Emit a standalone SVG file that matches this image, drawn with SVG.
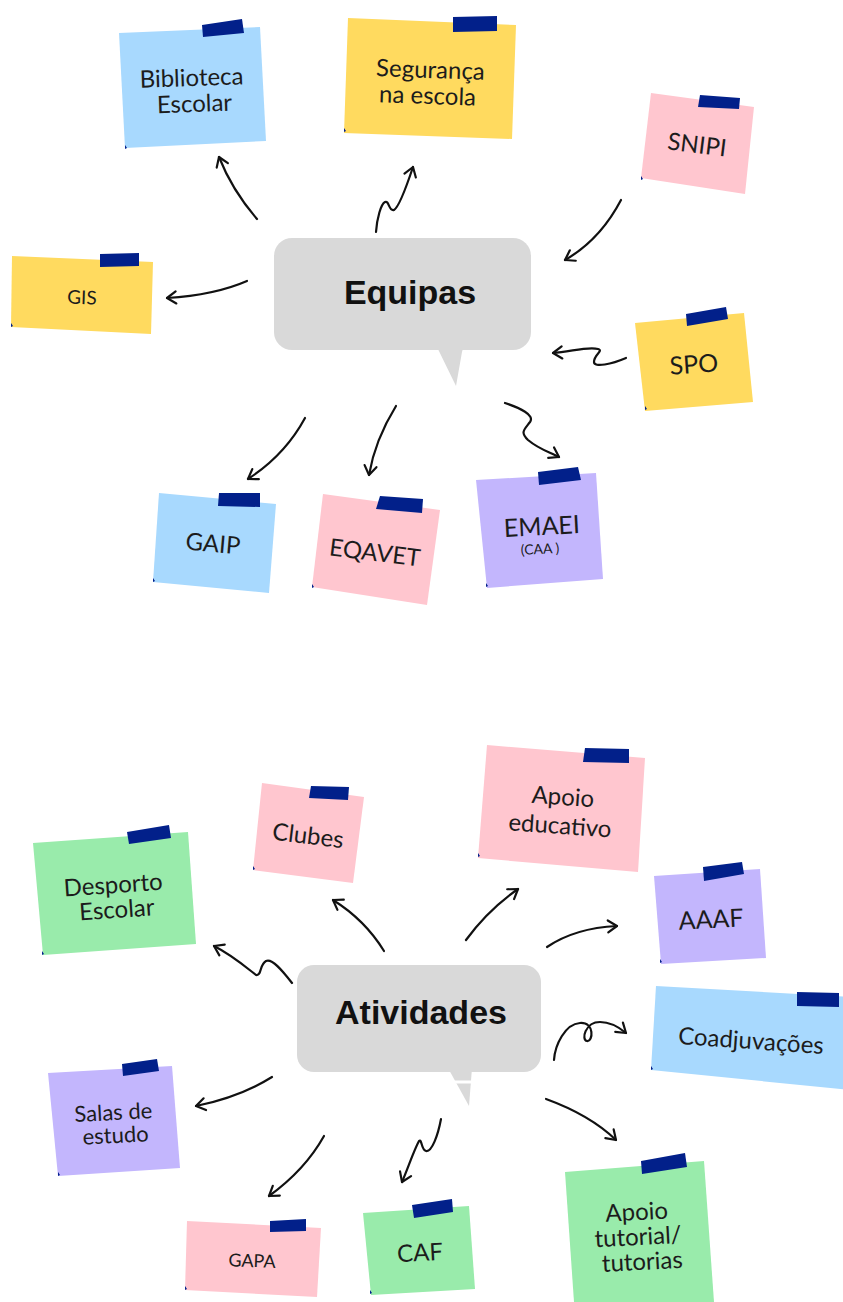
<svg xmlns="http://www.w3.org/2000/svg" width="843" height="1302" viewBox="0 0 843 1302">
<style>
.note{stroke:none}
.blue{fill:#a8d9fe}
.yellow{fill:#ffda5f}
.pink{fill:#ffc6cf}
.purple{fill:#c3b6fd}
.green{fill:#99ebab}
.tape{fill:#02208a}
.curl{fill:#02208a}
.lbl{font-family:Lato,"Open Sans",sans-serif;font-size:24px;fill:#1c1c1c;text-anchor:middle}
.hub{fill:#d9d9d9}
.hubtxt{font-family:"Liberation Sans",Arial,sans-serif;font-weight:bold;font-size:34px;fill:#111;text-anchor:middle}
.arr{fill:none;stroke:#111;stroke-width:2.2;stroke-linecap:round;stroke-linejoin:round;marker-end:url(#ah)}
</style>
<defs>
<marker id="ah" viewBox="-12 -8 14 16" refX="0" refY="0" markerWidth="14" markerHeight="16" markerUnits="userSpaceOnUse" orient="auto">
<path d="M-9,-6 L0,0 L-9,6" fill="none" stroke="#111" stroke-width="2.2" stroke-linecap="round" stroke-linejoin="round"/>
</marker>
</defs>
<rect width="843" height="1302" fill="#ffffff"/>

<!-- Hubs -->
<g id="hub-equipas">
<rect class="hub" x="274" y="238" width="257" height="112" rx="18"/>
<polygon class="hub" points="436,345 464,345 462,352 456,386"/>
<text class="hubtxt" x="410" y="304">Equipas</text>
</g>
<g id="hub-atividades">
<rect class="hub" x="297" y="965" width="244" height="107" rx="17"/>
<polygon class="hub" points="448,1068 472,1068 469,1106"/>
<line x1="446" y1="1082" x2="476" y2="1082" stroke="#fff" stroke-width="3"/>
<text class="hubtxt" x="421" y="1024">Atividades</text>
</g>

<!-- Connectors -->
<g id="connectors">
<path class="arr" d="M257,219 Q232,190 219,157"/>
<path class="arr" d="M376,232 C377,218 381,204 385,202 C389,200 389,212 394,210 C399,207 407,185 413,167"/>
<path class="arr" d="M621,200 Q600,240 565,260"/>
<path class="arr" d="M247,281 Q215,295 167,298"/>
<path class="arr" d="M626,358 C612,364 594,368 594,362 C594,354 604,351 598,349 C588,346 570,352 553,353"/>
<path class="arr" d="M305,418 Q285,455 248,479"/>
<path class="arr" d="M396,406 Q375,440 369,475"/>
<path class="arr" d="M505,403 C520,408 535,415 530,422 C524,430 520,432 528,440 C540,450 550,452 559,457"/>
<path class="arr" d="M292,983 C282,970 272,958 266,961 C259,965 262,976 256,975 C247,968 232,955 214,946"/>
<path class="arr" d="M384,951 Q365,920 333,900"/>
<path class="arr" d="M466,940 Q488,910 518,889"/>
<path class="arr" d="M547,947 Q575,928 617,926"/>
<path class="arr" d="M554,1060 C555,1045 565,1024 580,1023 C595,1022 593,1042 587,1041 C581,1040 585,1022 600,1022 C612,1022 620,1028 626,1033"/>
<path class="arr" d="M272,1077 Q240,1097 196,1106"/>
<path class="arr" d="M546,1099 Q590,1115 616,1140" stroke-width="3"/>
<path class="arr" d="M324,1136 Q305,1170 269,1196"/>
<path class="arr" d="M441,1119 C438,1135 432,1152 426,1151 C421,1150 422,1138 419,1141 C414,1150 408,1168 402,1182"/>
</g>

<!-- Equipas notes -->
<g id="n-biblioteca">
<polygon class="note blue" points="119,33 260,27 266,141 125,148"/>
<polygon class="tape" points="202,25 242,19 244,33 203,37"/>
<path class="curl" d="M125,145 l2,3 l-2,1 z"/>
<text class="lbl" transform="rotate(-2 193 91)"><tspan x="192" y="86">Biblioteca</tspan><tspan x="194" y="112">Escolar</tspan></text>
</g>
<g id="n-seguranca">
<polygon class="note yellow" points="348,18 516,25 512,139 344,133"/>
<polygon class="tape" points="453,17 497,16 497,31 453,32"/>
<path class="curl" d="M344,128 l2,3 l-2,1 z"/>
<text class="lbl" transform="rotate(2 430 83)"><tspan x="430" y="78">Segurança</tspan><tspan x="428" y="104">na escola</tspan></text>
</g>
<g id="n-snipi">
<polygon class="note pink" points="651,93 754,107 745,194 641,178"/>
<polygon class="tape" points="700,95 740,98 739,109 698,107"/>
<path class="curl" d="M641,176 l2,3 l-2,1 z"/>
<text class="lbl" transform="rotate(7 697 145)" x="697" y="153">SNIPI</text>
</g>
<g id="n-gis">
<polygon class="note yellow" points="12,256 153,262 151,334 11,327"/>
<polygon class="tape" points="100,254 139,253 139,266 100,267"/>
<path class="curl" d="M11,323 l2,3 l-2,1 z"/>
<text class="lbl" style="font-size:19px" transform="rotate(2 82 297)" x="82" y="304">GIS</text>
</g>
<g id="n-spo">
<polygon class="note yellow" points="635,323 744,313 753,402 645,411"/>
<polygon class="tape" points="686,314 726,307 728,319 687,326"/>
<path class="curl" d="M645,406 l2,3 l-2,1 z"/>
<text class="lbl" style="font-size:25px" transform="rotate(-4 694 365)" x="694" y="373">SPO</text>
</g>
<g id="n-gaip">
<polygon class="note blue" points="159,493 276,504 269,593 153,582"/>
<polygon class="tape" points="219,493 260,493 260,507 218,506"/>
<path class="curl" d="M153,578 l2,3 l-2,1 z"/>
<text class="lbl" transform="rotate(5 213 544)" x="213" y="552">GAIP</text>
</g>
<g id="n-eqavet">
<polygon class="note pink" points="323,494 440,510 427,605 312,587"/>
<polygon class="tape" points="380,496 423,499 422,513 376,509"/>
<path class="curl" d="M312,584 l2,3 l-2,1 z"/>
<text class="lbl" transform="rotate(7 375 553)" x="375" y="561">EQAVET</text>
</g>
<g id="n-emaei">
<polygon class="note purple" points="476,480 596,473 603,579 487,588"/>
<polygon class="tape" points="538,472 578,467 581,480 539,485"/>
<path class="curl" d="M486,583 l2,3 l-2,1 z"/>
<text class="lbl" style="font-size:25px" transform="rotate(-3 542 530)" x="542" y="535">EMAEI</text>
<text class="lbl" style="font-size:14px" transform="rotate(-3 540 549)" x="540" y="554">(CAA )</text>
</g>

<!-- Atividades notes -->
<g id="n-desporto">
<polygon class="note green" points="33,843 188,832 196,944 43,955"/>
<polygon class="tape" points="127,832 169,825 171,838 129,844"/>
<path class="curl" d="M42,951 l2,3 l-2,1 z"/>
<text class="lbl" transform="rotate(-4 115 898)"><tspan x="114" y="893">Desporto</tspan><tspan x="116" y="918">Escolar</tspan></text>
</g>
<g id="n-clubes">
<polygon class="note pink" points="262,783 364,797 353,883 253,870"/>
<polygon class="tape" points="311,786 349,787 348,800 309,798"/>
<path class="curl" d="M253,866 l2,3 l-2,1 z"/>
<text class="lbl" transform="rotate(7 308 836)" x="308" y="844">Clubes</text>
</g>
<g id="n-apoio-educativo">
<polygon class="note pink" points="487,745 645,758 638,872 478,858"/>
<polygon class="tape" points="585,748 629,749 629,763 583,762"/>
<path class="curl" d="M478,853 l2,3 l-2,1 z"/>
<text class="lbl" transform="rotate(4 562 811)"><tspan x="562" y="805">Apoio</tspan><tspan x="561" y="834">educativo</tspan></text>
</g>
<g id="n-aaaf">
<polygon class="note purple" points="654,876 760,869 766,958 661,964"/>
<polygon class="tape" points="703,867 742,862 744,874 704,881"/>
<path class="curl" d="M660,959 l2,3 l-2,1 z"/>
<text class="lbl" style="font-size:25px" transform="rotate(-3 711 920)" x="711" y="928">AAAF</text>
</g>
<g id="n-coadjuvacoes">
<polygon class="note blue" points="656,986 870,998 870,1092 651,1070"/>
<polygon class="tape" points="797,992 839,993 839,1007 797,1006"/>
<path class="curl" d="M651,1066 l2,3 l-2,1 z"/>
<text class="lbl" transform="rotate(4 751 1041)" x="751" y="1049">Coadjuvações</text>
</g>
<g id="n-salas">
<polygon class="note purple" points="48,1073 172,1066 180,1168 58,1176"/>
<polygon class="tape" points="122,1064 157,1059 159,1071 123,1076"/>
<path class="curl" d="M58,1172 l2,3 l-2,1 z"/>
<text class="lbl" style="font-size:22px" transform="rotate(-3 115 1125)"><tspan x="114" y="1120">Salas de</tspan><tspan x="115" y="1143">estudo</tspan></text>
</g>
<g id="n-gapa">
<polygon class="note pink" points="187,1221 321,1228 317,1297 185,1290"/>
<polygon class="tape" points="270,1221 306,1219 306,1231 270,1232"/>
<path class="curl" d="M185,1286 l2,3 l-2,1 z"/>
<text class="lbl" style="font-size:18px" transform="rotate(2 252 1261)" x="252" y="1267">GAPA</text>
</g>
<g id="n-caf">
<polygon class="note green" points="363,1213 469,1206 475,1289 371,1295"/>
<polygon class="tape" points="412,1205 452,1199 453,1212 414,1218"/>
<path class="curl" d="M370,1290 l2,3 l-2,1 z"/>
<text class="lbl" transform="rotate(-3 420 1253)" x="420" y="1261">CAF</text>
</g>
<g id="n-apoio-tutorial">
<polygon class="note green" points="565,1172 704,1161 714,1302 574,1302"/>
<polygon class="tape" points="641,1161 685,1153 687,1167 642,1174"/>
<text class="lbl" transform="rotate(-3 639 1237)"><tspan x="638" y="1220">Apoio</tspan><tspan x="638" y="1245">tutorial/</tspan><tspan x="641" y="1270">tutorias</tspan></text>
</g>
</svg>
